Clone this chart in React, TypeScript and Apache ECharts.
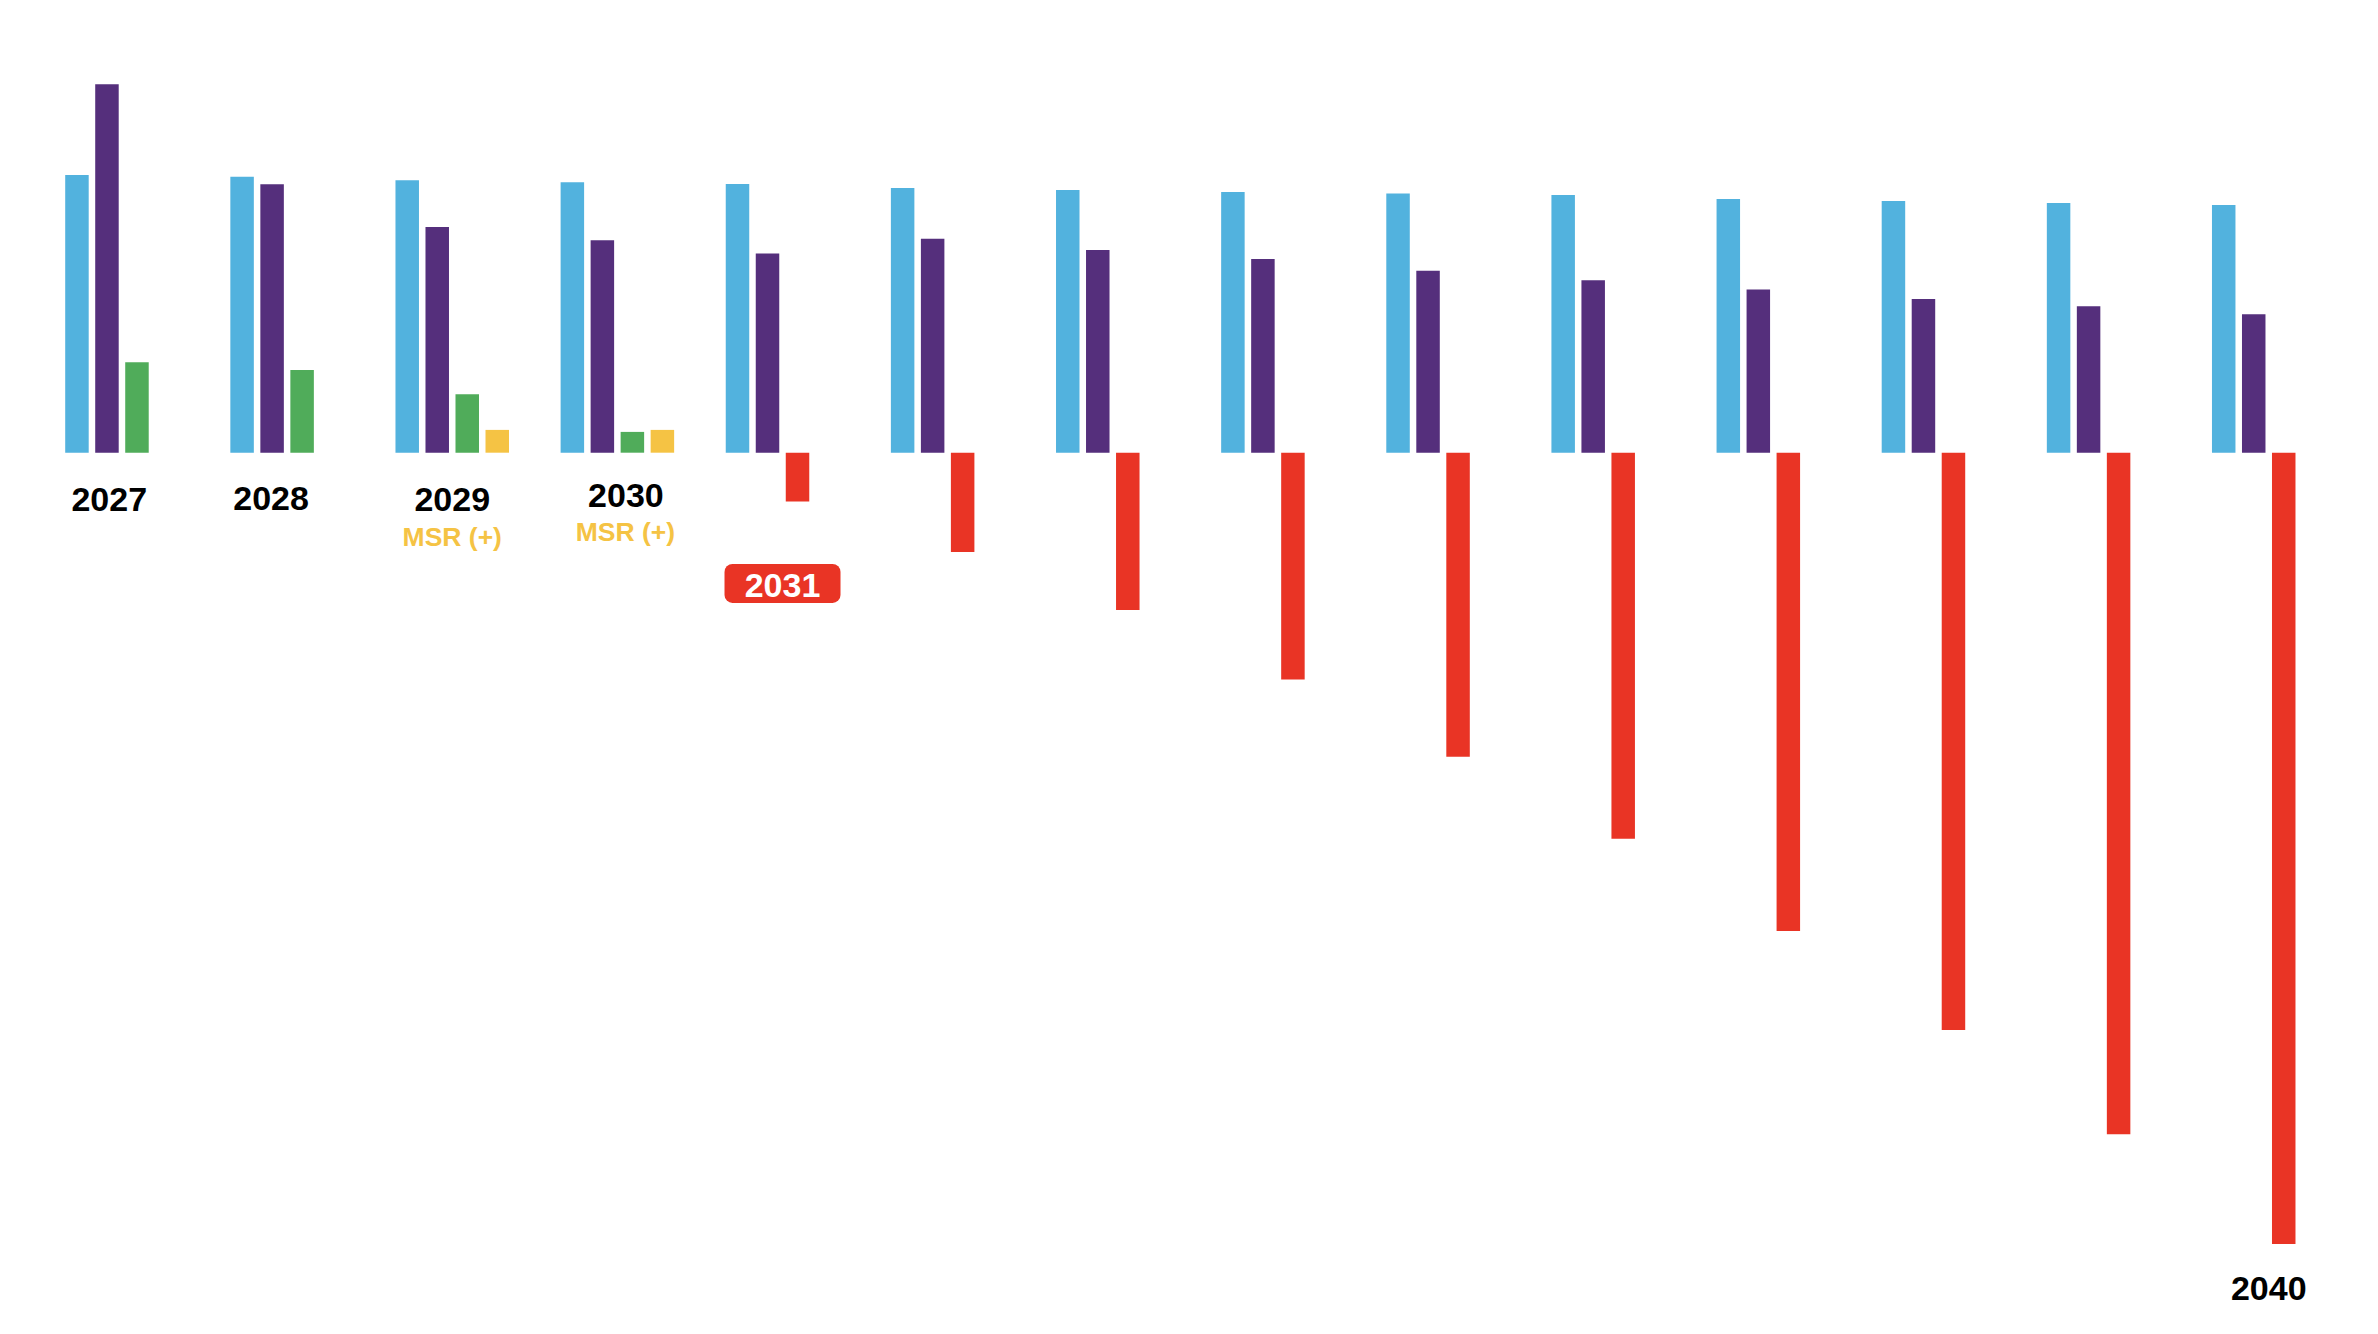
import React, { useEffect, useRef } from "react";
import * as echarts from "echarts";

// ---- data (arbitrary units) ----
const years = ["2027", "2028", "2029", "2030", "2031", "2032", "2033", "2034", "2035", "2036", "2037", "2038", "2039", "2040"];
const blueValues = [69.4, 69.0, 68.1, 67.6, 67.2, 66.2, 65.7, 65.2, 64.8, 64.4, 63.4, 62.9, 62.4, 61.9];
const purpleValues = [92.1, 67.1, 56.4, 53.1, 49.8, 53.5, 50.7, 48.4, 45.5, 43.1, 40.8, 38.4, 36.6, 34.6];
const greenValues = [22.6, 20.7, 14.6, 5.2, null, null, null, null, null, null, null, null, null, null];
const redValues = [null, null, null, null, -12.2, -24.8, -39.3, -56.7, -76.0, -96.5, -119.6, -144.3, -170.4, -197.8];
const yellowValues = [null, null, 5.7, 5.7, null, null, null, null, null, null, null, null, null, null];

// annotation labels
const yearLabels = ["2027", "2028", "2029", "2030"];
const msrLabelYears = ["2029", "2030"];
const msrText = "MSR (+)";
const highlightYear = "2031";
const lastYear = "2040";

const COLORS = {
  blue: "#52B2DE",
  purple: "#552F7C",
  green: "#50AC5A",
  red: "#E93425",
  yellow: "#F5C344",
};

// label offsets (px) relative to category centre / baseline
const yearLabelOffsets: Record<string, [number, number]> = {
  "2027": [-12.7, 46.5],
  "2028": [-16, 45.5],
  "2029": [0, 46.3],
  "2030": [8.5, 42],
};
const msrOffsets: Record<string, [number, number]> = {
  "2029": [0, 84.3],
  "2030": [8, 79.6],
};

const FONT = '"Liberation Sans", Arial, sans-serif';
const YEAR_SIZE = 34;
const MSR_SIZE = 26.5;

export default function App() {
  const ref = useRef<HTMLDivElement>(null);
  useEffect(() => {
    if (!ref.current) return;
    const chart = echarts.init(ref.current, undefined, { renderer: "svg" });
    const barBase = { type: "bar" as const, barWidth: 23.5, barGap: "27.7%", barCategoryGap: "0%" };
    chart.setOption({
      animation: false,
      backgroundColor: "#ffffff",
      grid: { left: 39.4, right: 26.7, top: 52.7, bottom: 81.3, containLabel: false },
      xAxis: {
        type: "category",
        data: years,
        axisLine: { show: false },
        axisTick: { show: false },
        axisLabel: { show: false },
        splitLine: { show: false },
      },
      yAxis: {
        type: "value",
        min: -200,
        max: 100,
        show: false,
        splitLine: { show: false },
      },
      series: [
        { ...barBase, name: "blue", data: blueValues, itemStyle: { color: COLORS.blue } },
        { ...barBase, name: "purple", data: purpleValues, itemStyle: { color: COLORS.purple } },
        { ...barBase, name: "green", stack: "gr", data: greenValues, itemStyle: { color: COLORS.green } },
        { ...barBase, name: "red", stack: "gr", data: redValues, itemStyle: { color: COLORS.red } },
        { ...barBase, name: "yellow", data: yellowValues, itemStyle: { color: COLORS.yellow } },
      ],
    });

    const px = (cat: string, val: number) => chart.convertToPixel({ gridIndex: 0 }, [cat, val]) as number[];
    const graphics: any[] = [];
    yearLabels.forEach((y) => {
      const [cx, by] = px(y, 0);
      const [dx, dy] = yearLabelOffsets[y];
      graphics.push({
        type: "text",
        x: cx + dx,
        y: by + dy,
        style: { text: y, fill: "#000", fontFamily: FONT, fontWeight: "bold", fontSize: YEAR_SIZE, align: "center", verticalAlign: "middle" },
      });
    });
    msrLabelYears.forEach((y) => {
      const [cx, by] = px(y, 0);
      const [dx, dy] = msrOffsets[y];
      graphics.push({
        type: "text",
        x: cx + dx,
        y: by + dy,
        style: { text: msrText, fill: COLORS.yellow, fontFamily: FONT, fontWeight: "bold", fontSize: MSR_SIZE, align: "center", verticalAlign: "middle" },
      });
    });
    {
      const [cx, by] = px(highlightYear, 0);
      const w = 116, h = 39;
      const cy = by + 130.7;
      graphics.push({
        type: "rect",
        shape: { x: cx - w / 2, y: cy - h / 2, width: w, height: h, r: 8 },
        style: { fill: COLORS.red },
      });
      graphics.push({
        type: "text",
        x: cx,
        y: by + 132.6,
        style: { text: highlightYear, fill: "#fff", fontFamily: FONT, fontWeight: "bold", fontSize: YEAR_SIZE, align: "center", verticalAlign: "middle" },
      });
    }
    {
      const idx = years.indexOf(lastYear);
      const [cx, ey] = px(lastYear, redValues[idx] as number);
      graphics.push({
        type: "text",
        x: cx,
        y: ey + 43.8,
        style: { text: lastYear, fill: "#000", fontFamily: FONT, fontWeight: "bold", fontSize: YEAR_SIZE, align: "center", verticalAlign: "middle" },
      });
    }
    chart.setOption({ graphic: graphics });

    return () => chart.dispose();
  }, []);
  return (
    <div
      ref={ref}
      style={{ position: "fixed", left: 0, top: 0, width: "2378px", height: "1334px", background: "#fff" }}
    />
  );
}
